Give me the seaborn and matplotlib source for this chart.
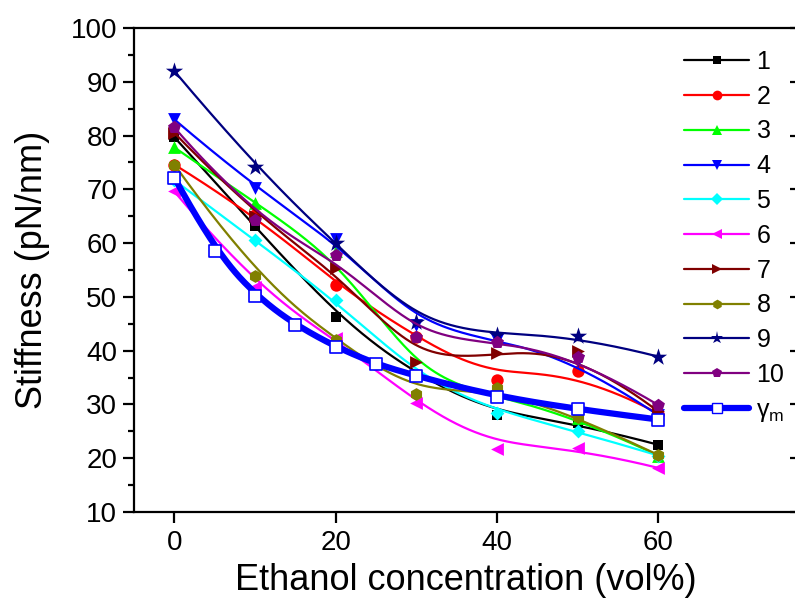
import numpy as np
import matplotlib
matplotlib.use("Agg")
import matplotlib.pyplot as plt
import seaborn as sns
from matplotlib.lines import Line2D

sns.set_style("ticks")
plt.rcParams['font.family'] = ['Liberation Sans', 'DejaVu Sans']
plt.rcParams['mathtext.fontset'] = 'custom'
plt.rcParams['mathtext.rm'] = 'Liberation Sans'
plt.rcParams['mathtext.it'] = 'Liberation Sans:italic'
plt.rcParams['text.color'] = 'black'
plt.rcParams['axes.labelcolor'] = 'black'
plt.rcParams['xtick.color'] = 'black'
plt.rcParams['ytick.color'] = 'black'

# === data ===
conc = [0, 10, 20, 30, 40, 50, 60]
s1 = [79.7, 63.1, 46.3, 35.5, 28.0, 26.5, 22.5]
s2 = [74.6, 65.3, 52.3, 42.5, 34.5, 36.3, 28.3]
s3 = [77.8, 67.4, 58.5, 35.5, 31.5, 27.5, 20.5]
s4 = [83.0, 70.2, 60.8, 44.8, 42.0, 38.0, 28.0]
s5 = [71.7, 60.5, 49.4, 35.5, 28.5, 25.0, 20.5]
s6 = [69.6, 51.8, 42.3, 30.3, 21.8, 21.9, 18.2]
s7 = [80.5, 65.0, 55.3, 37.8, 39.6, 40.0, 28.7]
s8 = [74.6, 53.8, 42.0, 32.0, 33.1, 27.7, 20.6]
s9 = [92.0, 74.2, 60.0, 45.4, 42.9, 42.7, 38.9]
s10 = [81.5, 64.3, 57.8, 42.6, 41.7, 38.8, 29.9]

conc_m = [0, 5, 10, 15, 20, 25, 30, 40, 50, 60]
gamma_m = [72.2, 58.5, 50.2, 44.8, 40.7, 37.5, 35.3, 31.4, 29.1, 27.2]

labels = ["1", "2", "3", "4", "5", "6", "7", "8", "9", "10"]
colors = ["#000000", "#FF0000", "#00FF00", "#0000FF", "#00FFFF",
          "#FF00FF", "#800000", "#808000", "#000080", "#800080"]
markers = ["s", "o", "^", "v", "D", "<", ">", "h", "*", "p"]
msizes = [60, 80, 85, 85, 50, 85, 85, 85, 170, 95]
leg_ms = [6, 7, 7.5, 7.5, 6, 7.5, 7.5, 7, 9.5, 7.5]


def bspline(x, y, n=300):
    # clamped cubic B-spline, data points used as control points (Origin style)
    P = np.column_stack([x, y]).astype(float)
    m = len(P)
    k = 3
    knots = np.concatenate([np.zeros(k), np.arange(m - k + 1), np.full(k, m - k)]).astype(float)
    t = np.linspace(0, m - k, n)
    t[-1] -= 1e-9
    N = np.zeros((n, len(knots) - 1))
    for i in range(len(knots) - 1):
        N[:, i] = (knots[i] <= t) & (t < knots[i + 1])
    for d in range(1, k + 1):
        Nn = np.zeros((n, len(knots) - 1 - d))
        for i in range(len(knots) - 1 - d):
            den1 = knots[i + d] - knots[i]
            den2 = knots[i + d + 1] - knots[i + 1]
            term = np.zeros(n)
            if den1 > 0:
                term += (t - knots[i]) / den1 * N[:, i]
            if den2 > 0:
                term += (knots[i + d + 1] - t) / den2 * N[:, i + 1]
            Nn[:, i] = term
        N = Nn
    C = N @ P
    return C[:, 0], C[:, 1]


fig = plt.figure(figsize=(7.95, 6.05), dpi=100)
ax = fig.add_axes([134 / 795, 1 - 512 / 605, 663 / 795, 484 / 605])

all_series = [s1, s2, s3, s4, s5, s6, s7, s8, s9, s10]
handles = []
for i, ys in enumerate(all_series):
    cx, cy = bspline(conc, ys)
    sns.lineplot(x=cx, y=cy, color=colors[i], linewidth=1.6, sort=False,
                 estimator=None, ax=ax, zorder=2 + i * 0.1)
    sns.scatterplot(x=conc, y=ys, color=colors[i], marker=markers[i], s=msizes[i],
                    linewidth=0, ax=ax, zorder=2.05 + i * 0.1)
    handles.append(Line2D([], [], color=colors[i], lw=1.6, marker=markers[i],
                          markersize=leg_ms[i], markeredgewidth=0))

# mean curve
cx, cy = bspline(conc_m, gamma_m)
sns.lineplot(x=cx, y=cy, color="#0000FF", linewidth=4.5, sort=False,
             estimator=None, ax=ax, zorder=4)
sns.scatterplot(x=conc_m, y=gamma_m, marker="s", s=75, facecolor="white",
                edgecolor="#0000FF", linewidth=1.2, ax=ax, zorder=4.1)
handles.append(Line2D([], [], color="#0000FF", lw=4.5, marker="s", markersize=7,
                      markerfacecolor="white", markeredgecolor="#0000FF",
                      markeredgewidth=1.0))
labels.append("γ$_{\\mathrm{m}}$")

ax.set_xlim(-5, 77.2)
ax.set_ylim(10, 100)
ax.set_xticks([0, 20, 40, 60])
ax.set_yticks(np.arange(10, 101, 10))
ax.set_yticks(np.arange(15, 100, 10), minor=True)

for sp in ax.spines.values():
    sp.set_linewidth(1.6)
    sp.set_color("black")
    sp.set_visible(True)

ax.tick_params(axis="y", which="major", direction="out", length=8, width=1.6,
               labelsize=20, pad=4)
ax.tick_params(axis="y", which="minor", direction="out", length=4.5, width=1.6, left=True)
ax.tick_params(axis="x", which="major", direction="out", length=8, width=1.6,
               labelsize=20, pad=5)

# inward ticks on the right-hand frame
sec = ax.secondary_yaxis("right")
sec.set_yticks(np.arange(10, 101, 10))
sec.tick_params(direction="in", length=5, width=1.6, labelright=False)

ax.set_xlabel("Ethanol concentration (vol%)", fontsize=26, labelpad=5)
ax.set_ylabel("Stiffness (pN/nm)", fontsize=26, labelpad=15)
ax.grid(False)

ax.legend(handles, labels, loc="upper left", bbox_to_anchor=(684 / 795, 1 - 50 / 605),
          bbox_transform=fig.transFigure, frameon=False, fontsize=18,
          handlelength=2.6, handletextpad=0.3, labelspacing=0.43,
          borderpad=0, borderaxespad=0, numpoints=1)

fig.savefig("out.png", dpi=100)
